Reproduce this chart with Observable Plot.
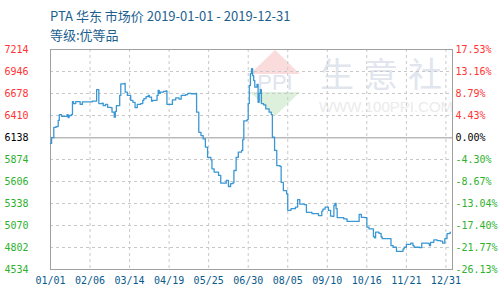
<!DOCTYPE html>
<html>
<head>
<meta charset="utf-8">
<script src="https://cdn.jsdelivr.net/npm/d3@7"></script>
<script src="https://cdn.jsdelivr.net/npm/@observablehq/plot@0.6"></script>
<style>
  html, body { margin: 0; padding: 0; background: #fff; }
  #wrap { position: relative; width: 500px; height: 300px; overflow: hidden; }
  #head { height: 42px; position: relative; font-family: "Noto Sans CJK SC", "Noto Sans", sans-serif; color: #1d5f8f; font-size: 13px; }
  #t1 { position: absolute; left: 50px; top: 6px; white-space: nowrap; }
  #t2 { position: absolute; left: 50px; top: 25px; white-space: nowrap; }
  #wm { position: absolute; left: 0; top: 0; width: 500px; height: 300px; z-index: 0; }
  #chart { position: relative; z-index: 1; }
  #chart svg { background: transparent !important; }
</style>
</head>
<body>
<div id="wrap">
  <svg id="wm" width="500" height="300">
    <polygon points="275,50 300,74 250,74" fill="#fadcdc"/>
    <polygon points="250,92 300,92 275,116" fill="#dcf0dc"/>
    <text x="275" y="90" text-anchor="middle" font-family="Liberation Sans, sans-serif" font-size="22" fill="#dfe4ee">PPI</text>
    <text x="386" y="87" text-anchor="middle" font-family="Noto Sans CJK SC" font-size="34" fill="#e1e5ee" letter-spacing="10">生意社</text>
    <text x="386" y="112" text-anchor="middle" font-family="Liberation Sans, sans-serif" font-size="15" fill="#ebebeb">WWW.100PPI.COM</text>
  </svg>
  <div id="head">
    <div id="t1">PTA 华东 市场价 2019-01-01 - 2019-12-31</div>
    <div id="t2">等级:优等品</div>
  </div>
  <div id="chart"></div>
</div>
<script>
const dates = [
 "2019-01-01","2019-01-02","2019-01-04","2019-01-06","2019-01-08","2019-01-09","2019-01-11","2019-01-16","2019-01-17","2019-01-18",
 "2019-01-20","2019-01-21","2019-01-22","2019-01-24","2019-01-28","2019-01-30","2019-02-08","2019-02-12","2019-02-14","2019-02-17",
 "2019-02-18","2019-02-20","2019-02-22","2019-02-25","2019-02-26","2019-02-28","2019-03-01","2019-03-02","2019-03-05","2019-03-06",
 "2019-03-09","2019-03-10","2019-03-12","2019-03-15","2019-03-17","2019-03-19","2019-03-21","2019-03-24","2019-03-26","2019-03-27",
 "2019-03-29","2019-03-31","2019-04-01","2019-04-03","2019-04-04","2019-04-08","2019-04-09","2019-04-10","2019-04-11","2019-04-14",
 "2019-04-16","2019-04-17","2019-04-22","2019-04-25","2019-04-28","2019-04-30","2019-05-04","2019-05-06","2019-05-09","2019-05-13",
 "2019-05-14","2019-05-16","2019-05-18","2019-05-20","2019-05-22","2019-05-24","2019-05-27","2019-05-28","2019-05-30","2019-06-03",
 "2019-06-05","2019-06-10","2019-06-12","2019-06-14","2019-06-16","2019-06-17","2019-06-19","2019-06-21","2019-06-24","2019-06-25",
 "2019-06-26","2019-06-29","2019-06-30","2019-07-01","2019-07-02","2019-07-03","2019-07-04","2019-07-05","2019-07-06","2019-07-08",
 "2019-07-09","2019-07-10","2019-07-11","2019-07-12","2019-07-14","2019-07-16","2019-07-19","2019-07-21","2019-07-22","2019-07-24",
 "2019-07-26","2019-07-29","2019-07-30","2019-08-01","2019-08-04","2019-08-05","2019-08-08","2019-08-12","2019-08-14","2019-08-16",
 "2019-08-20","2019-08-22","2019-08-27","2019-09-02","2019-09-05","2019-09-06","2019-09-08","2019-09-11","2019-09-13","2019-09-15",
 "2019-09-16","2019-09-17","2019-09-18","2019-09-19","2019-09-25","2019-09-28","2019-10-09","2019-10-11","2019-10-14","2019-10-16",
 "2019-10-18","2019-10-22","2019-10-23","2019-10-24","2019-10-27","2019-10-29","2019-10-30","2019-11-07","2019-11-09","2019-11-12",
 "2019-11-18","2019-11-19","2019-11-21","2019-11-25","2019-11-27","2019-11-28","2019-12-03","2019-12-05","2019-12-11","2019-12-12",
 "2019-12-13","2019-12-16","2019-12-19","2019-12-22","2019-12-24","2019-12-26","2019-12-28","2019-12-30","2019-12-31"
];
const prices = [
 6070,6140,6265,6275,6350,6420,6400,6420,6385,6410,
 6420,6580,6555,6580,6545,6575,6585,6725,6555,6560,
 6530,6545,6510,6505,6450,6390,6460,6530,6655,6795,
 6800,6695,6655,6595,6570,6505,6545,6555,6595,6615,
 6640,6655,6635,6585,6595,6655,6715,6680,6695,6705,
 6710,6545,6600,6625,6610,6655,6665,6680,6675,6680,
 6450,6205,6165,6125,6025,5900,5870,5760,5720,5680,
 5585,5620,5545,5580,5590,5740,5900,5965,5985,6115,
 6345,6360,6555,6775,6920,6980,6895,6835,6755,6790,
 6570,6680,6725,6555,6540,6490,6450,6420,6145,5985,
 5800,5790,5595,5495,5455,5255,5275,5295,5385,5330,
 5325,5230,5215,5190,5245,5270,5295,5255,5185,5180,
 5315,5340,5275,5165,5150,5120,5205,5170,5165,5050,
 5030,4935,4920,4990,4975,4930,4910,4825,4805,4755,
 4785,4805,4840,4855,4825,4805,4800,4855,4850,4825,
 4865,4895,4885,4880,4855,4910,4970,4975,4990
];
const basePrice = 6138;
const yTicks = [7214, 6946, 6678, 6410, 6138, 5874, 5606, 5338, 5070, 4802, 4534];
const pctLabels = ["17.53%","13.16%","8.79%","4.43%","0.00%","-4.30%","-8.67%","-13.04%","-17.40%","-21.77%","-26.13%"];
const xTickDates = ["2019-01-01","2019-02-06","2019-03-14","2019-04-19","2019-05-25","2019-06-30","2019-08-05","2019-09-10","2019-10-16","2019-11-21","2019-12-27"];
const xTickLabels = ["01/01","02/06","03/14","04/19","05/25","06/30","08/05","09/10","10/16","11/21","12/31"];

const data = dates.map((d, i) => ({date: new Date(d + "T00:00:00Z"), price: prices[i]}));
const xt = xTickDates.map(d => new Date(d + "T00:00:00Z"));
const colorOf = v => v > basePrice ? "#ff3333" : v < basePrice ? "#2eb22e" : "#000000";

const chart = Plot.plot({
  width: 500,
  height: 258,
  marginTop: 7,
  marginBottom: 31,
  marginLeft: 50,
  marginRight: 48,
  style: {fontFamily: "DejaVu Sans Mono, monospace", fontSize: "10px", background: "transparent"},
  x: {type: "utc", domain: [new Date("2019-01-01T00:00:00Z"), new Date("2020-01-02T00:00:00Z")], axis: null},
  y: {domain: [4534, 7214], axis: null},
  marks: [
    Plot.ruleY(yTicks.filter(v => v !== basePrice), {stroke: "#c8c8c8", strokeDasharray: "3,3"}),
    Plot.ruleX(xt.slice(1), {stroke: "#c8c8c8", strokeDasharray: "3,3"}),
    Plot.ruleY([basePrice], {stroke: "#999999"}),
    Plot.frame({stroke: "#a0a0a0"}),
    Plot.line(data, {x: "date", y: "price", stroke: "#3a97d4", strokeWidth: 1.3, curve: "step-after"}),
    Plot.text(yTicks, {y: d => d, frameAnchor: "left", dx: -22, textAnchor: "end", text: d => String(d), fill: colorOf, fontSize: 10}),
    Plot.text(yTicks, {y: d => d, frameAnchor: "right", dx: 3, textAnchor: "start", text: (d, i) => pctLabels[i], fill: colorOf, fontSize: 10}),
    Plot.text(xt, {x: d => d, frameAnchor: "bottom", dy: 14, text: (d, i) => xTickLabels[i], fill: "#0a5a8c", fontSize: 10})
  ]
});
document.getElementById("chart").appendChild(chart);
</script>
</body>
</html>
